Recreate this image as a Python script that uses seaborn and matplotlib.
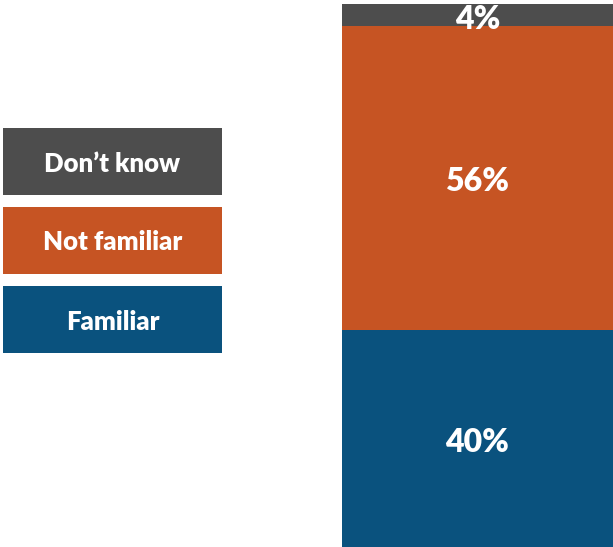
import matplotlib
matplotlib.use("Agg")
import matplotlib.pyplot as plt
import matplotlib.transforms as mtransforms
import seaborn as sns
import pandas as pd
import numpy as np

# Survey response shares (percent), stacked bottom to top
categories = ["Familiar", "Not familiar", "Don\u2019t know"]
shares = [40, 56, 4]
colors = ["#0a527e", "#c65423", "#4d4d4d"]

sns.set_theme(style="white")
plt.rcParams["font.family"] = ["Lato", "DejaVu Sans"]

W, H = 613, 547
fig = plt.figure(figsize=(W / 100, H / 100), dpi=100)

# Stacked single bar
ax = fig.add_axes([342 / W, 0, 1 - 342 / W, (H - 4) / H])
tops = np.cumsum(shares)
bottoms = tops - np.array(shares)
df = pd.DataFrame({"group": ["all"] * len(categories), "category": categories,
                   "top": tops, "bottom": bottoms, "share": shares})
# draw cumulative tops from highest down so each segment shows its own colour
for i in reversed(range(len(categories))):
    sns.barplot(data=df.iloc[[i]], x="group", y="top", color=colors[i],
                width=1.0, saturation=1, ax=ax, linewidth=0)
ax.set_xlim(-0.5, 0.5)
ax.set_ylim(0, 100)
shift = mtransforms.ScaledTranslation(0, -3 / 72, fig.dpi_scale_trans)
for _, r in df.iterrows():
    ax.text(0, (r["bottom"] + r["top"]) / 2, f"{r['share']}%", ha="center",
            va="center", color="white", fontsize=23, fontweight="heavy",
            transform=ax.transData + shift)
ax.axis("off")

# Legend as coloured boxes with labels
lax = fig.add_axes([0, 0, 1, 1])
lax.set_xlim(0, W)
lax.set_ylim(H, 0)
lax.axis("off")
box_tops = [286, 207, 128]
for cat, col, y0 in zip(categories, colors, box_tops):
    lax.add_patch(plt.Rectangle((3, y0), 219, 67, color=col, lw=0))
    lax.text(112.5, y0 + 35.5, cat, ha="center", va="center", color="white",
             fontsize=18.5, fontweight="heavy")

fig.savefig("out.png", dpi=100)
